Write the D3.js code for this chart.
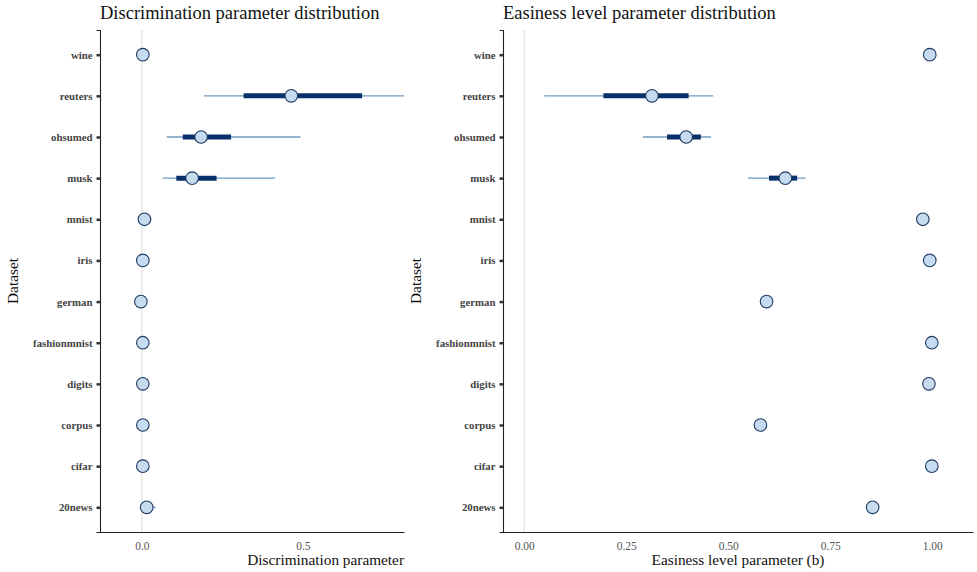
<!DOCTYPE html>
<html>
<head>
<meta charset="utf-8">
<script src="https://cdn.jsdelivr.net/npm/d3@7"></script>
<style>
  body { margin: 0; background: #fff; }
  svg text { font-family: "Liberation Serif", "DejaVu Serif", serif; }
</style>
</head>
<body>
<svg id="chart" width="977" height="572"></svg>
<script>
// datasets, top to bottom
const datasets = ["wine", "reuters", "ohsumed", "musk", "mnist", "iris", "german",
  "fashionmnist", "digits", "corpus", "cifar", "20news"];

// discrimination parameter: median, inner interval, outer interval
const discMedian = [0.003, 0.464, 0.184, 0.156, 0.008, 0.003, -0.003, 0.003, 0.003, 0.003, 0.003, 0.015];
const discInnerLo = [0.0, 0.316, 0.127, 0.107, 0.005, 0.0, -0.005, 0.0, 0.0, 0.0, 0.0, 0.01];
const discInnerHi = [0.006, 0.684, 0.277, 0.232, 0.012, 0.006, 0.0, 0.006, 0.006, 0.006, 0.006, 0.022];
const discOuterLo = [0.0, 0.193, 0.077, 0.065, 0.002, 0.0, -0.007, 0.0, 0.0, 0.0, 0.0, 0.005];
const discOuterHi = [0.008, 0.85, 0.493, 0.414, 0.03, 0.008, 0.002, 0.008, 0.008, 0.008, 0.008, 0.043];

// easiness level parameter (b)
const easyMedian = [0.994, 0.313, 0.397, 0.640, 0.977, 0.994, 0.594, 0.999, 0.992, 0.579, 0.999, 0.854];
const easyInnerLo = [0.993, 0.194, 0.350, 0.600, 0.975, 0.993, 0.592, 0.998, 0.991, 0.577, 0.998, 0.852];
const easyInnerHi = [0.995, 0.403, 0.433, 0.669, 0.979, 0.995, 0.596, 1.0, 0.993, 0.581, 1.0, 0.856];
const easyOuterLo = [0.992, 0.049, 0.291, 0.548, 0.973, 0.992, 0.590, 0.997, 0.990, 0.575, 0.997, 0.850];
const easyOuterHi = [0.996, 0.463, 0.458, 0.690, 0.981, 0.996, 0.598, 1.0, 0.994, 0.583, 1.0, 0.858];

const discTicks = [0.0, 0.5];
const easyTicks = [0, 0.25, 0.5, 0.75, 1.0];

const svg = d3.select("#chart");
const panelTop = 30, panelBottom = 532;

function rows(med, iLo, iHi, oLo, oHi) {
  return datasets.map((name, i) => ({ name, med: med[i], iLo: iLo[i], iHi: iHi[i], oLo: oLo[i], oHi: oHi[i] }));
}

function panel(opts) {
  const g = svg.append("g");
  const x = d3.scaleLinear().domain(opts.domain).range([opts.left, opts.right]);
  const y = d3.scalePoint().domain(datasets).range([panelTop, panelBottom]).padding(0.6);

  // clip so the long interval stays inside the panel
  const clipId = "clip" + opts.left;
  svg.append("clipPath").attr("id", clipId)
    .append("rect").attr("x", opts.left).attr("y", panelTop)
    .attr("width", opts.right - opts.left).attr("height", panelBottom - panelTop);

  // reference line at zero
  g.append("line")
    .attr("x1", x(0)).attr("x2", x(0)).attr("y1", panelTop).attr("y2", panelBottom)
    .attr("stroke", "#e0e0e0").attr("stroke-width", 1.2);

  const marks = g.append("g").attr("clip-path", `url(#${clipId})`);
  const row = marks.selectAll("g.row").data(opts.data).join("g").attr("class", "row");

  row.append("line")
    .attr("x1", d => x(d.oLo)).attr("x2", d => x(d.oHi))
    .attr("y1", d => y(d.name)).attr("y2", d => y(d.name))
    .attr("stroke", "#6f9cc3").attr("stroke-width", 1.3);
  row.append("line")
    .attr("x1", d => x(d.iLo)).attr("x2", d => x(d.iHi))
    .attr("y1", d => y(d.name)).attr("y2", d => y(d.name))
    .attr("stroke", "#08306b").attr("stroke-width", 5);
  row.append("circle")
    .attr("cx", d => x(d.med)).attr("cy", d => y(d.name)).attr("r", 6.3)
    .attr("fill", "#c6dbef").attr("stroke", "#1f3a60").attr("stroke-width", 1.1);

  // axes
  const xAxis = g.append("g").attr("transform", `translate(0,${panelBottom})`)
    .call(d3.axisBottom(x).tickValues(opts.ticks).tickFormat(opts.fmt).tickSize(0).tickPadding(10));
  xAxis.select(".domain").attr("stroke", "#222").attr("stroke-width", 1.1);
  xAxis.selectAll("text").attr("fill", "#555").attr("font-size", 11.5);

  const yAxis = g.append("g").attr("transform", `translate(${opts.left},0)`)
    .call(d3.axisLeft(y).tickSize(3.5).tickPadding(4));
  yAxis.select(".domain").attr("stroke", "#222").attr("stroke-width", 1.1);
  yAxis.selectAll(".tick line").attr("stroke", "#333").attr("stroke-width", 2.5);
  yAxis.selectAll("text").attr("fill", "#444").attr("font-size", 10.8).attr("font-weight", "bold");

  // titles
  g.append("text").attr("x", opts.left).attr("y", 19)
    .attr("font-size", 18.5).attr("fill", "#111").text(opts.title);
  g.append("text").attr("x", opts.xLabelX).attr("y", 565)
    .attr("text-anchor", opts.xLabelAnchor)
    .attr("font-size", 15.3).attr("fill", "#111").text(opts.xLabel);
  g.append("text")
    .attr("transform", `translate(${opts.left - 82},${(panelTop + panelBottom) / 2}) rotate(-90)`)
    .attr("text-anchor", "middle").attr("font-size", 15.3).attr("fill", "#111").text("Dataset");
}

panel({
  left: 100, right: 404, domain: [-0.13, 0.814],
  data: rows(discMedian, discInnerLo, discInnerHi, discOuterLo, discOuterHi),
  ticks: discTicks, fmt: d3.format(".1f"),
  title: "Discrimination parameter distribution",
  xLabel: "Discrimination parameter", xLabelX: 404, xLabelAnchor: "end"
});

panel({
  left: 503, right: 973, domain: [-0.052, 1.1],
  data: rows(easyMedian, easyInnerLo, easyInnerHi, easyOuterLo, easyOuterHi),
  ticks: easyTicks, fmt: d3.format(".2f"),
  title: "Easiness level parameter distribution",
  xLabel: "Easiness level parameter (b)", xLabelX: 738, xLabelAnchor: "middle"
});
</script>
</body>
</html>
